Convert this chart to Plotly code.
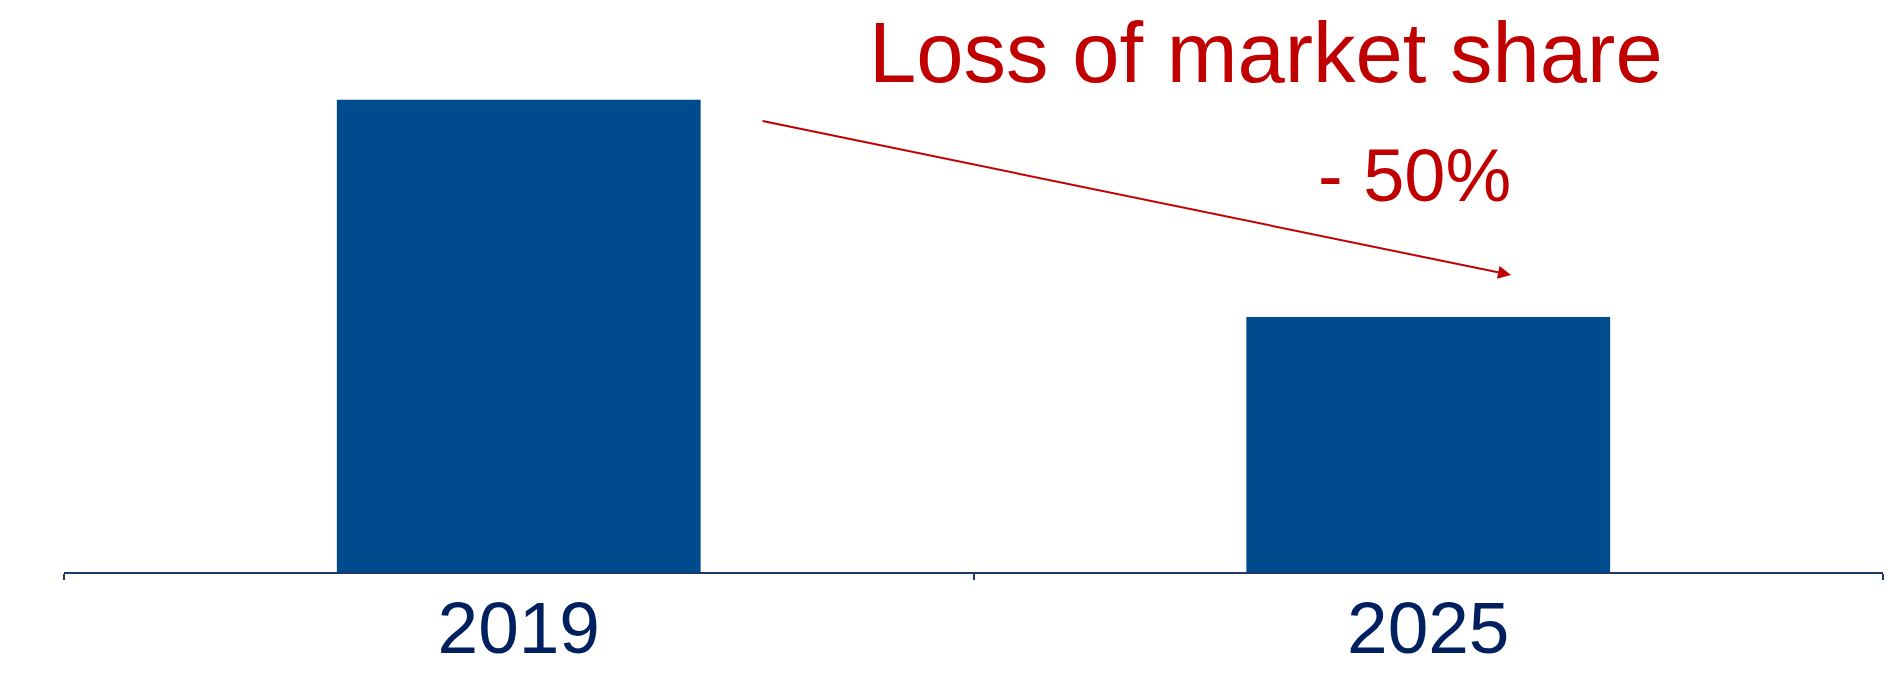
import plotly.graph_objects as go

# Data
categories = ["2019", "2025"]
values = [100, 54]
title_text = "Loss of market share"
change_text = "- 50%"

BAR = "#004B8D"
RED = "#C00000"
NAVY = "#002060"
AXIS = "#1F3A60"
FONT = "Liberation Sans, Arial, sans-serif"

fig = go.Figure()
fig.add_trace(go.Bar(
    x=categories, y=values,
    marker=dict(color=BAR, line=dict(width=0)),
    hoverinfo="skip",
))

fig.update_layout(
    width=1895, height=678,
    margin=dict(l=64, r=12, t=0, b=106),
    paper_bgcolor="white", plot_bgcolor="white",
    bargap=0.6,
    showlegend=False,
    font=dict(family=FONT),
    xaxis=dict(
        type="category",
        showline=True, linecolor=AXIS, linewidth=2,
        ticks="outside", tickson="boundaries", ticklen=6, tickwidth=2, tickcolor=AXIS,
        tickfont=dict(family=FONT, size=73, color=NAVY),
        ticklabelstandoff=-9,
        showgrid=False, zeroline=False, automargin=False,
    ),
    yaxis=dict(visible=False, range=[0, 121.1], showgrid=False, zeroline=False),
)

# Title and change label
fig.add_annotation(
    text=title_text, xref="paper", yref="paper",
    x=0.6608, y=0.9087, xanchor="center", yanchor="middle",
    showarrow=False, font=dict(family=FONT, size=85, color=RED),
)
fig.add_annotation(
    text=change_text, xref="paper", yref="paper",
    x=0.7422, y=0.6925, xanchor="center", yanchor="middle",
    showarrow=False, font=dict(family=FONT, size=74, color=RED),
)
# Arrow
fig.add_annotation(
    text="", xref="x domain", yref="y domain", axref="x domain", ayref="y domain",
    x=0.7955, y=0.5192, ax=0.3832, ay=0.789,
    showarrow=True, arrowhead=2, arrowsize=1.3, arrowwidth=2, arrowcolor=RED,
)

fig.write_html(
    "out.html",
    config={"displayModeBar": False},
    post_script="document.body.style.margin='0';document.body.style.overflow='hidden';",
)
